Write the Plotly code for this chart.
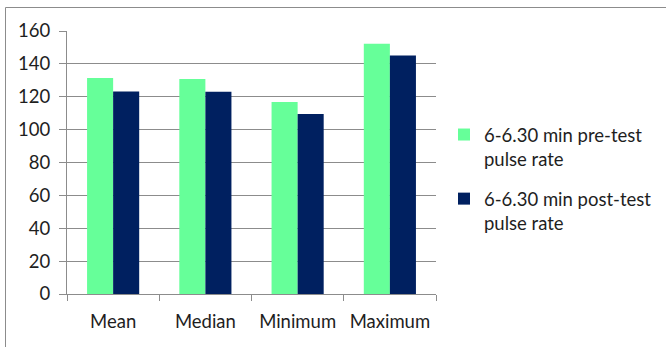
import plotly.graph_objects as go

# Pulse-rate summary statistics
categories = ["Mean", "Median", "Minimum", "Maximum"]
pre_test = [131.4, 130.8, 116.8, 152.3]
post_test = [123.2, 123.0, 109.5, 145.1]
series_names = ["6-6.30 min pre-test<br>pulse rate", "6-6.30 min post-test<br>pulse rate"]
y_ticks = [0, 20, 40, 60, 80, 100, 120, 140, 160]

W, H = 666, 347
L, R, T, B = 67, 230, 31, 53
plot_w = W - L - R
plot_h = H - T - B

FONT = "Lato"
FS = 18.5
TXT = "#1e1e1e"
GRID = "#8c8c8c"

fig = go.Figure()
fig.add_trace(go.Bar(x=categories, y=pre_test, name=series_names[0],
                     marker=dict(color="#66FF99", line=dict(width=0)),
                     legendgroup="a"))
fig.add_trace(go.Bar(x=categories, y=post_test, name=series_names[1],
                     marker=dict(color="#002060", line=dict(width=0)),
                     legendgroup="b"))


def px_x(px):
    return (px - L) / plot_w


def px_y(py):
    return (H - B - py) / plot_h


# outer chart frame (top and left edges)
frame = dict(type="line", xref="paper", yref="paper",
             line=dict(color="#8c8c8c", width=1))
fig.add_shape(**frame, x0=px_x(5.5), x1=px_x(666), y0=px_y(7.5), y1=px_y(7.5))
fig.add_shape(**frame, x0=px_x(5.5), x1=px_x(5.5), y0=px_y(7.5), y1=px_y(347))

fig.update_layout(
    width=W, height=H,
    margin=dict(l=L, r=R, t=T, b=B, autoexpand=False),
    paper_bgcolor="white", plot_bgcolor="white",
    barmode="group", bargap=0.435, bargroupgap=0,
    font=dict(family=FONT, size=FS, color=TXT),
    showlegend=True,
    legend=dict(x=px_x(444), xanchor="left", y=px_y(179), yanchor="middle",
                xref="paper", yref="paper", valign="top",
                font=dict(family=FONT, size=FS, color=TXT),
                tracegroupgap=13, itemwidth=30,
                bgcolor="rgba(0,0,0,0)"),
    xaxis=dict(showline=True, linecolor=GRID, linewidth=1,
               ticks="outside", tickson="boundaries", ticklen=6, tickcolor=GRID,
               ticklabelstandoff=11, showgrid=False, tickangle=0,
               automargin=False,
               tickfont=dict(family=FONT, size=FS, color=TXT)),
    yaxis=dict(range=[0, 160], tickvals=y_ticks, showline=True,
               linecolor=GRID, linewidth=1, ticks="outside", ticklen=7,
               tickcolor=GRID, showgrid=True, gridcolor=GRID, gridwidth=1,
               zeroline=False, ticklabelstandoff=5, automargin=False,
               tickfont=dict(family=FONT, size=FS, color=TXT)),
)

fig.write_html("out.html")
